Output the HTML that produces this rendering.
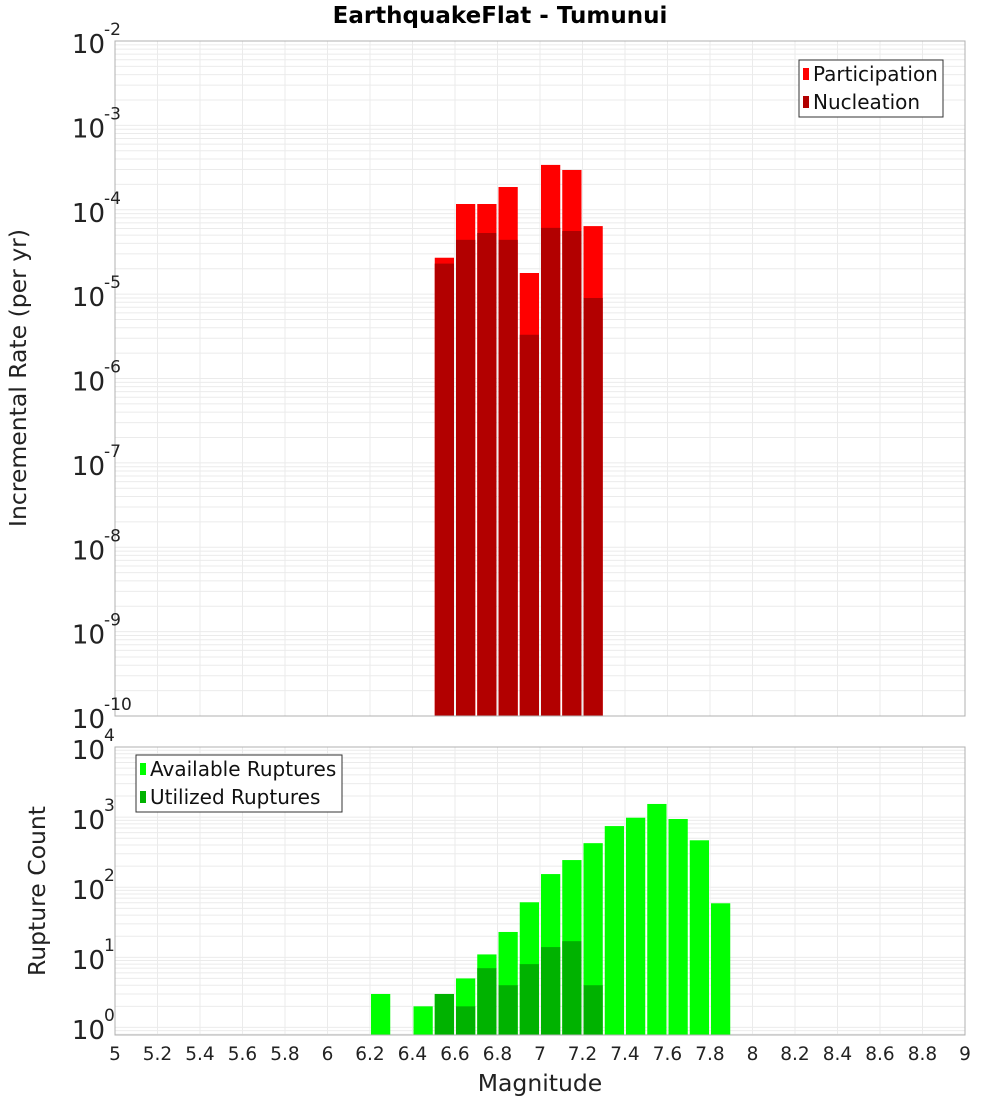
<!DOCTYPE html>
<html><head><meta charset="utf-8"><style>
html,body{margin:0;padding:0;background:#fff;}
svg text{font-family:"DejaVu Sans","Liberation Sans",sans-serif;}
</style></head><body>
<svg id="chart" width="1000" height="1100" xmlns="http://www.w3.org/2000/svg">
<rect width="1000" height="1100" fill="#fff"/>
<text x="500" y="23" text-anchor="middle" font-size="23" font-weight="bold">EarthquakeFlat - Tumunui</text>
<g id="top"></g>
<g id="bot"></g>
</svg>
<script>
const bins = [6.55,6.65,6.75,6.85,6.95,7.05,7.15,7.25];
const participation = [2.7e-5,1.17e-4,1.17e-4,1.86e-4,1.78e-5,3.4e-4,2.96e-4,6.4e-5];
const nucleation = [2.3e-5,4.4e-5,5.3e-5,4.4e-5,3.3e-6,6.1e-5,5.6e-5,9.0e-6];
const availBins = [6.25,6.45,6.55,6.65,6.75,6.85,6.95,7.05,7.15,7.25,7.35,7.45,7.55,7.65,7.75,7.85];
const available = [3,2,3,5,11,23,61,154,244,425,745,980,1540,940,467,59];
const utilBins = [6.55,6.65,6.75,6.85,6.95,7.05,7.15,7.25];
const utilized = [3,2,7,4,8,14,17,4];
const xTicks = [5,5.2,5.4,5.6,5.8,6,6.2,6.4,6.6,6.8,7,7.2,7.4,7.6,7.8,8,8.2,8.4,8.6,8.8,9];
const topExps = [-10,-9,-8,-7,-6,-5,-4,-3,-2];
const botExps = [0,1,2,3,4];

const NS="http://www.w3.org/2000/svg";
const L=115,R=965;
const X=v=>L+(v-5)/4*(R-L);
function mk(p,tag,a){const e=document.createElementNS(NS,tag);for(const k in a)e.setAttribute(k,a[k]);p.appendChild(e);return e;}
const topG=document.getElementById('top'), botG=document.getElementById('bot');
const tT=41,tB=716, tMin=-10,tMax=-2;
const YT=v=>tB-(Math.log10(v)-tMin)/(tMax-tMin)*(tB-tT);
const bT=747,bB=1035, bMin=Math.log10(0.78),bMax=4;
const YB=v=>bB-(Math.log10(v)-bMin)/(bMax-bMin)*(bB-bT);

function grid(g,top,bot,Y,e0,e1,minV){
  for(let e=e0;e<=e1;e++){for(let m=1;m<10;m++){const v=m*Math.pow(10,e);if(v<minV)continue;const y=Y(v);if(y<top-0.5||y>bot)continue;
    const l=mk(g,'line',{x1:L,x2:R,y1:y,y2:y,stroke:'#ebebeb','stroke-width':1});
    
    }}
  xTicks.forEach(t=>{const l=mk(g,'line',{x1:X(t),x2:X(t),y1:top,y2:bot,stroke:'#ebebeb','stroke-width':1});
    
    });
}
grid(topG,tT,tB,YT,-10,-3,1e-10);
grid(botG,bT,bB,YB,-1,3,0.78);

function bars(g,bs,vals,Y,bot,color,name){
  bs.forEach((b,i)=>{const x0=X(b-0.05)+1,x1=X(b+0.05)-1,y=Y(vals[i]);
    const r=mk(g,'rect',{x:x0,y:y,width:x1-x0,height:bot-y,fill:color});
    
    });
}
bars(topG,bins,participation,YT,tB,'#ff0000','participation-bar');
bars(topG,bins,nucleation,YT,tB,'#b20000','nucleation-bar');
bars(botG,availBins,available,YB,bB,'#00ff00','available-bar');
bars(botG,utilBins,utilized,YB,bB,'#00b200','utilized-bar');

[[topG,tT,tB],[botG,bT,bB]].forEach(([g,a,b])=>{const r=mk(g,'rect',{x:L,y:a,width:R-L,height:b-a,fill:'none',stroke:'#b0b0b0'});
  
  });

function ylab(g,exps,Y){exps.forEach(e=>{const y=Y(Math.pow(10,e));
  const t=mk(g,'text',{x:105,y:y+12,'text-anchor':'end','font-size':26,fill:'#222'});
  
  
  t.textContent='10';
  const s=mk(g,'text',{x:104,y:y-6,'font-size':17,fill:'#222'});
  s.textContent=String(e);
  
  
});}
ylab(topG,topExps,YT);
ylab(botG,botExps,v=>bB-(Math.log10(v)-0)/(4)*(bB-8-bT)-8);

xTicks.forEach(t=>{const tx=mk(botG,'text',{x:X(t),y:1060,'text-anchor':'middle','font-size':18.5,fill:'#222'});
  tx.textContent=String(t);
  
  });
const xt=mk(botG,'text',{x:540,y:1091,'text-anchor':'middle','font-size':23.5,fill:'#222'});xt.textContent='Magnitude';


const yt1=mk(topG,'text',{x:0,y:0,'text-anchor':'middle','font-size':23.5,fill:'#222',transform:'translate(26,378) rotate(-90)'});yt1.textContent='Incremental Rate (per yr)';


const yt2=mk(botG,'text',{x:0,y:0,'text-anchor':'middle','font-size':23.5,fill:'#222',transform:'translate(45,891) rotate(-90)'});yt2.textContent='Rupture Count';



function legend(g,x,y,w,items){const f=mk(g,'rect',{x:x,y:y,width:w,height:57,fill:'#fff',stroke:'#333'});
  
  
  items.forEach((it,i)=>{const yy=y+5+i*28;
    const s=mk(g,'rect',{x:x+4,y:yy+3,width:6,height:12,fill:it[1]});
    
    
    const t=mk(g,'text',{x:x+14,y:yy+16,'font-size':20,fill:'#111'});t.textContent=it[0];
    
    });}
legend(topG,799,60,144,[['Participation','#ff0000'],['Nucleation','#b20000']]);
legend(botG,136,755,206,[['Available Ruptures','#00ff00'],['Utilized Ruptures','#00b200']]);
</script>
</body></html>
